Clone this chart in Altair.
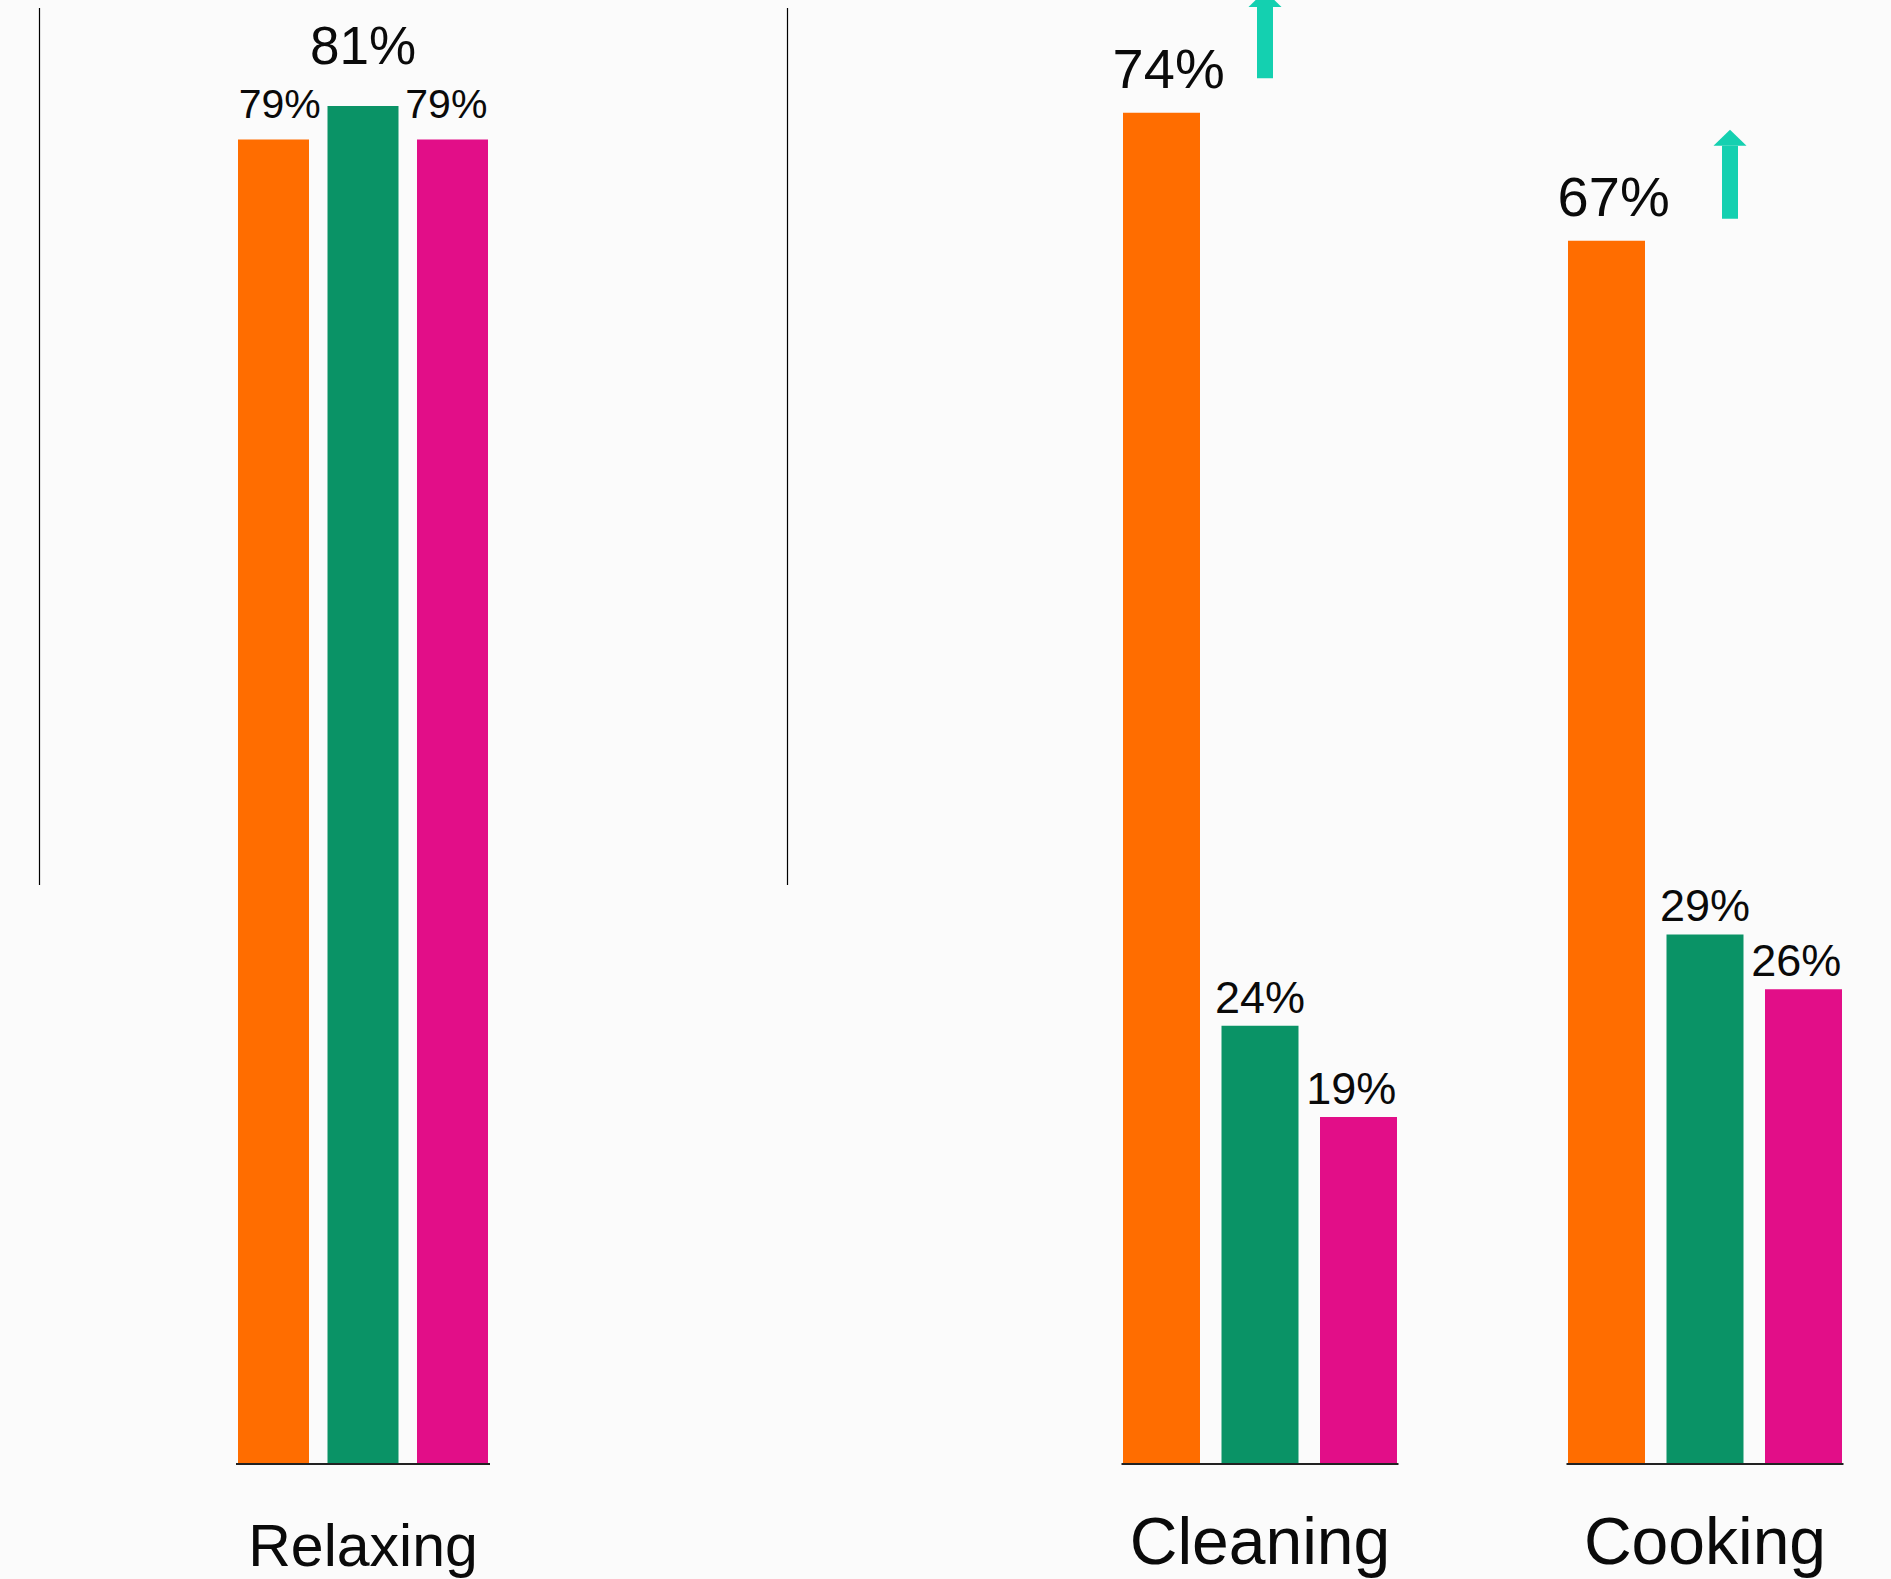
import altair as alt
import pandas as pd

# ---------------- data ----------------
series = ["Series 1", "Series 2", "Series 3"]
colors = ["#ff6d00", "#0a9366", "#e20e88"]

groups = ["Relaxing", "Cleaning", "Cooking"]
values_relaxing = [79, 81, 79]
values_cleaning = [74, 24, 19]
values_cooking = [67, 29, 26]

arrow_groups = ["Cleaning", "Cooking"]
arrow_from = [75.9, 68.2]
arrow_to = [79.8, 72.2]

FONT = "Liberation Sans"
TEAL = "#14d0b0"
INK = "#0a0a0a"

rows = []
for g, vals in zip(groups, [values_relaxing, values_cleaning, values_cooking]):
    mx = max(vals)
    for s, v in zip(series, vals):
        rows.append({"group": g, "series": s, "value": v, "label": f"{v}%",
                     "is_max": bool(v == mx)})
df = pd.DataFrame(rows)
cats = pd.DataFrame({"group": groups})
arrows = pd.DataFrame({"group": arrow_groups, "start": arrow_from, "end": arrow_to})

# ---------------- layout (pixel ranges of each group's band) ----------------
band_range = {"Relaxing": [238, 488], "Cleaning": [1123, 1397], "Cooking": [1568, 1842]}
bar_pad = {"Relaxing": 0.2067, "Cleaning": 0.2183, "Cooking": 0.2183}
y_top = {"Relaxing": 87.32, "Cleaning": 80.18, "Cooking": 80.18}
# text styling per group: (small size, large size, small dy, large dy, category size, category dy, tick size)
style = {
    "Relaxing": (41, 53, -21, -42, 59, 102, 254),
    "Cleaning": (45, 56, -13, -25, 66, 100, 277),
    "Cooking": (45, 56, -13, -25, 66, 100, 277),
}
arrow_x = {"Cleaning": 1265, "Cooking": 1730}

color = alt.Color("series:N", scale=alt.Scale(domain=series, range=colors), legend=None)

layers = []
for g in groups:
    ys = alt.Scale(domain=[0, y_top[g]], nice=False, zero=False)
    xs_series = alt.Scale(domain=series, range=band_range[g], paddingInner=bar_pad[g],
                          paddingOuter=0)
    xs_group = alt.Scale(domain=[g], range=band_range[g], paddingInner=0, paddingOuter=0)
    small, large, sdy, ldy, csize, cdy, tsize = style[g]

    base = alt.Chart(df).transform_filter(alt.datum.group == g)
    ex = alt.X("series:N", scale=xs_series, axis=None, sort=series)
    ey = alt.Y("value:Q", scale=ys, axis=None)

    layers.append(base.mark_bar().encode(x=ex, y=ey, color=color))
    layers.append(base.transform_filter("!datum.is_max").mark_text(
        font=FONT, fontSize=small, dy=sdy, baseline="alphabetic", align="center", color=INK
    ).encode(x=ex, y=ey, text="label:N"))
    layers.append(base.transform_filter("datum.is_max").mark_text(
        font=FONT, fontSize=large, dy=ldy, baseline="alphabetic", align="center", color=INK
    ).encode(x=ex, y=ey, text="label:N"))

    cbase = alt.Chart(cats).transform_filter(alt.datum.group == g).transform_calculate(zero="0")
    gx = alt.X("group:N", scale=xs_group, axis=None)
    gy = alt.Y("zero:Q", scale=ys, axis=None)
    layers.append(cbase.mark_tick(orient="horizontal", size=tsize, thickness=2,
                                  color="#222", opacity=1).encode(x=gx, y=gy))
    layers.append(cbase.mark_text(font=FONT, fontSize=csize, dy=cdy, baseline="alphabetic",
                                  align="center", color=INK).encode(x=gx, y=gy, text="group:N"))

    if g in arrow_x:
        a = alt.Chart(arrows).transform_filter(alt.datum.group == g)
        xs_arrow = alt.Scale(domain=[g], range=[arrow_x[g] - 1, arrow_x[g] + 1],
                             paddingInner=0, paddingOuter=0)
        ax = alt.X("group:N", scale=xs_arrow, axis=None)
        layers.append(a.mark_rule(color=TEAL, strokeWidth=16).encode(
            x=ax, y=alt.Y("start:Q", scale=ys, axis=None), y2="end:Q"))
        layers.append(a.mark_point(shape="M-1,0L1,0L0,-0.97Z", filled=True, size=1089,
                                   color=TEAL, opacity=1, strokeWidth=0).encode(
            x=ax, y=alt.Y("end:Q", scale=ys, axis=None)))

# two thin decorative vertical rules
one = pd.DataFrame({"k": [0]})
layers.append(alt.Chart(one).mark_rule(color="#000", strokeWidth=1.2).encode(
    x=alt.value(39.5), y=alt.value(8), y2=alt.value(885)))
layers.append(alt.Chart(one).mark_rule(color="#000", strokeWidth=1.2).encode(
    x=alt.value(787.5), y=alt.value(8), y2=alt.value(885)))

chart = alt.layer(*layers).resolve_scale(
    x="independent", y="independent"
).properties(
    width=1891,
    height=1464,
    autosize=alt.AutoSizeParams(type="none"),
    padding={"left": 0, "top": 0, "right": 0, "bottom": 115},
    background="#fbfbfb",
).configure_view(strokeWidth=0)

chart.save("out.html", embed_options={"renderer": "svg", "actions": False})
